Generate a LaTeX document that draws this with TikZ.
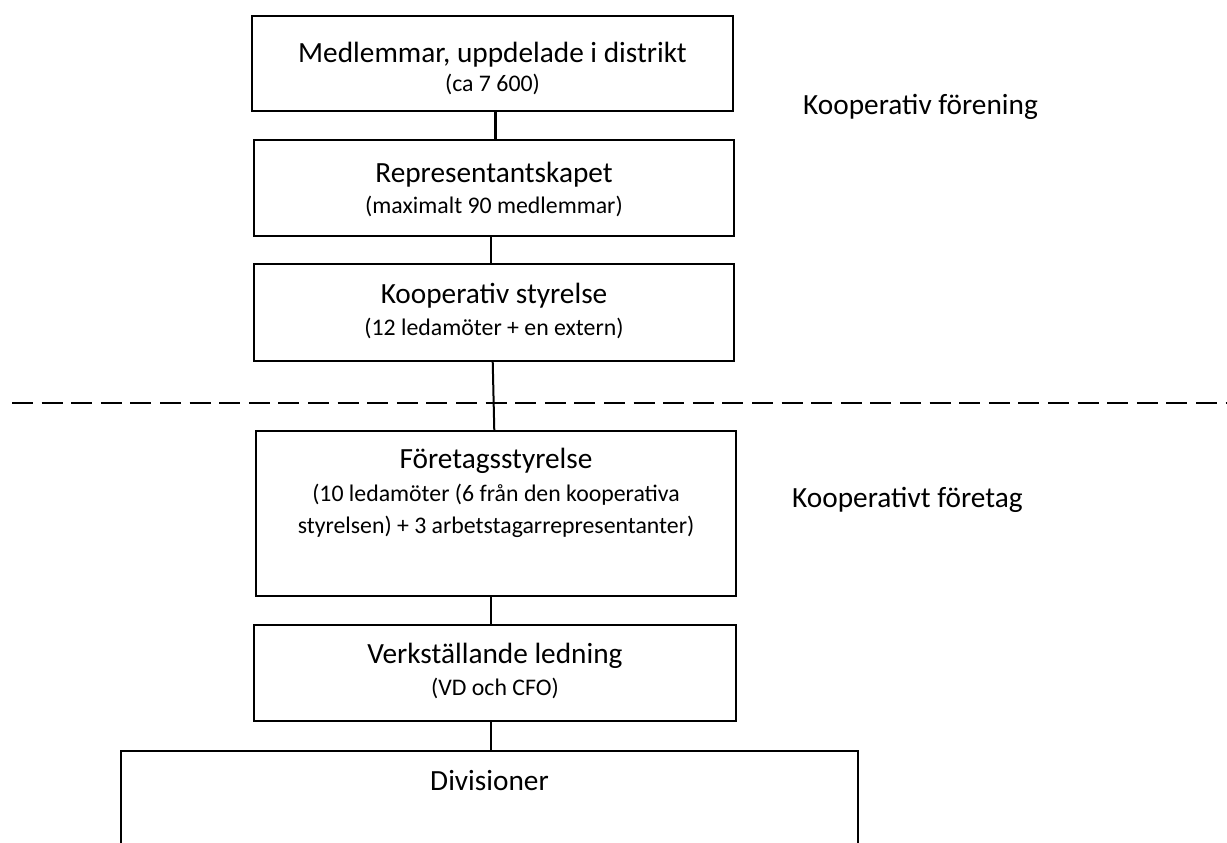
\documentclass[tikz,border=0pt]{standalone}
\usepackage{fontspec}
\setmainfont{Carlito}
\begin{document}
\begin{tikzpicture}[x=1pt,y=-1pt,
  box/.style={draw=black, line width=2pt, inner sep=0pt, outer sep=0pt, fill=none},
  title/.style={font=\fontsize{29.3}{35}\selectfont, inner sep=0pt, anchor=base},
  sub/.style={font=\fontsize{23.8}{29}\selectfont, inner sep=0pt, anchor=base},
  side/.style={font=\fontsize{29.3}{35}\selectfont, inner sep=0pt, anchor=base west},
  conn/.style={draw=black, line width=2.5pt},
  divider/.style={draw=black, line width=2.6pt, dash pattern=on 21pt off 8.6pt}]
\useasboundingbox (0,0) rectangle (1227,843);
\clip (0,0) rectangle (1227,843);

% boxes
\node[box, minimum width=481pt, minimum height=95pt] (b1) at (492.5,63.5) {};
\node[box, minimum width=480pt, minimum height=96pt] (b2) at (494,188) {};
\node[box, minimum width=480pt, minimum height=97pt] (b3) at (494,312.5) {};
\node[box, minimum width=480pt, minimum height=165pt] (b4) at (496,513.5) {};
\node[box, minimum width=482pt, minimum height=96pt] (b5) at (495,673) {};
\node[box, minimum width=737pt, minimum height=200pt] (b6) at (489.5,851) {};

% box texts
\node[title] (t1) at (492.5,63) {Medlemmar, uppdelade i distrikt};
\node[sub]   (s1) at (492.5,92) {(ca 7 600)};
\node[title] (t2) at (494,182) {Representantskapet};
\node[sub]   (s2) at (494,213) {(maximalt 90 medlemmar)};
\node[title] (t3) at (494,303) {Kooperativ styrelse};
\node[sub]   (s3) at (494,335) {(12 ledamöter + en extern)};
\node[title] (t4) at (496,468) {Företagsstyrelse};
\node[sub]   (s4a) at (496,501) {(10 ledamöter (6 från den kooperativa};
\node[sub]   (s4b) at (496,533) {styrelsen) + 3 arbetstagarrepresentanter)};
\node[title] (t5) at (495,663) {Verkställande ledning};
\node[sub]   (s5) at (495,695) {(VD och CFO)};
\node[title] (t6) at (489.5,790) {Divisioner};

% side labels
\node[side] (l1) at (803,114) {Kooperativ förening};
\node[side] (l2) at (792,507) {Kooperativt företag};

% connectors
\draw[conn, line width=3pt] ([xshift=2.5pt]b1.south) -- ([xshift=1pt]b2.north);
\draw[conn] ([xshift=-3pt]b2.south) -- ([xshift=-3pt]b3.north);
\draw[conn, line width=2pt] ([xshift=-1.3pt]b3.south) -- ([xshift=-1.7pt]b4.north);
\draw[conn] ([xshift=-5pt]b4.south) -- ([xshift=-4pt]b5.north);
\draw[conn] ([xshift=-4pt]b5.south) -- ([xshift=1.5pt]b6.north);

% divider between association and company
\coordinate (dl) at (12,403);
\coordinate (dr) at (1227,403);
\draw[divider] (dl) -- (dr);
\end{tikzpicture}
\end{document}
